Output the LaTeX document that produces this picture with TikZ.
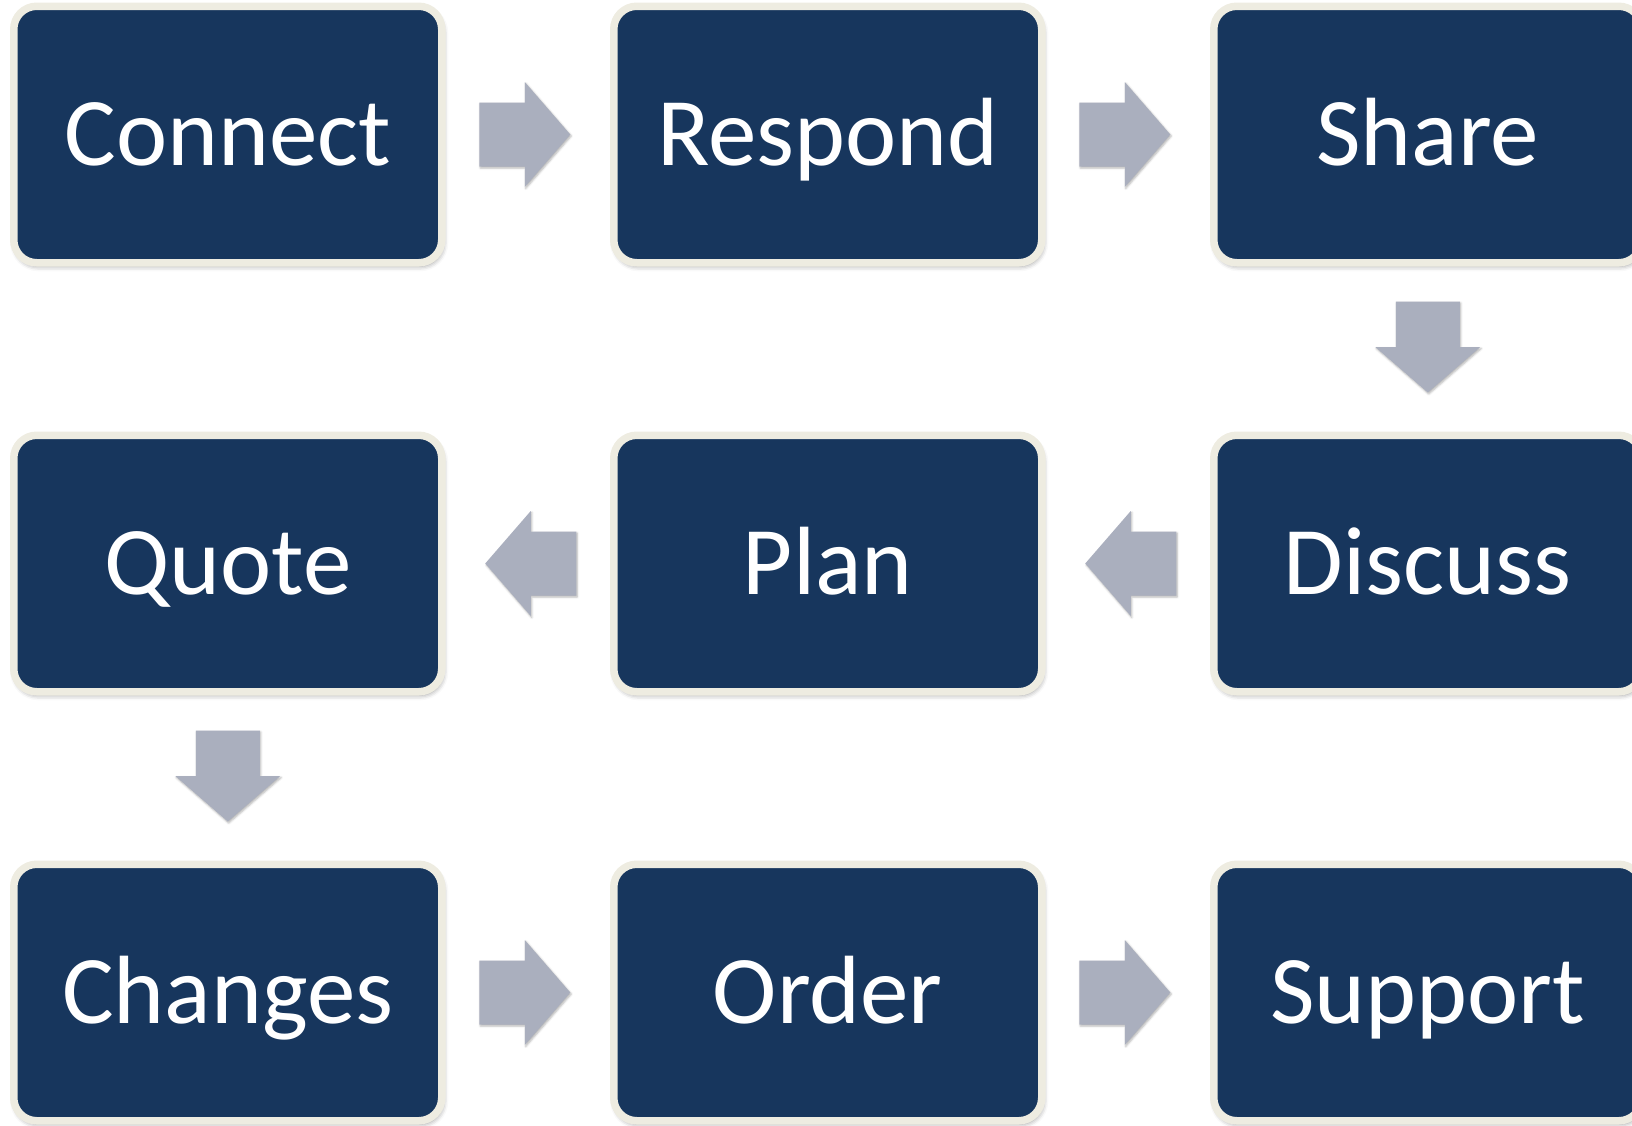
\documentclass[tikz,border=0pt]{standalone}
\usepackage{fontspec}
\setmainfont{Carlito}
\usetikzlibrary{calc,shadows.blur}
\definecolor{navy}{HTML}{17365D}
\definecolor{cream}{HTML}{EEECE1}
\definecolor{arrowgrey}{HTML}{AAAFBE}
\newcommand\barrow[2]{%
  \begin{scope}[shift={#1},rotate=#2]
    \fill[arrowgrey, blur shadow={shadow xshift=1pt, shadow yshift=-1.5pt, shadow blur radius=2pt, shadow opacity=30}]
      (-45.5,-32) -- (0,-32) -- (0,-52.5) -- (45.5,0) -- (0,52.5) -- (0,32) -- (-45.5,32) -- cycle;
  \end{scope}}
\begin{document}
\begin{tikzpicture}[x=1pt,y=-1pt,
  stepbox/.style={draw=cream, line width=7.5pt, fill=navy, rounded corners=23pt,
    minimum width=428pt, minimum height=256.5pt, inner sep=0pt, text=white,
    font=\fontsize{97}{97}\selectfont, text height=61pt, text depth=0pt,
    blur shadow={shadow xshift=1.5pt, shadow yshift=-3.5pt, shadow blur radius=5pt, shadow opacity=40}}]
\useasboundingbox (0,0) rectangle (1632,1125);
\clip (0,0) rectangle (1632,1125);
\node[stepbox] (connect) at (227.75,134.5) {Connect};
\node[stepbox] (respond) at (827.75,134.5) {Respond};
\node[stepbox] (share)   at (1427.75,134.5) {Share};
\node[stepbox] (quote)   at (227.75,563.5) {Quote};
\node[stepbox] (plan)    at (827.75,563.5) {Plan};
\node[stepbox] (discuss) at (1427.75,563.5) {Discuss};
\node[stepbox] (changes) at (227.75,992.5) {Changes};
\node[stepbox] (order)   at (827.75,992.5) {Order};
\node[stepbox] (support) at (1427.75,992.5) {Support};
\barrow{($(connect.east)!.5!(respond.west)+(-3,0)$)}{0}
\barrow{($(respond.east)!.5!(share.west)+(-3,0)$)}{0}
\barrow{($(share.south)!.5!(discuss.north)+(0,-2)$)}{-90}
\barrow{($(discuss.west)!.5!(plan.east)+(3,0)$)}{180}
\barrow{($(plan.west)!.5!(quote.east)+(3,0)$)}{180}
\barrow{($(quote.south)!.5!(changes.north)+(0,-2)$)}{-90}
\barrow{($(changes.east)!.5!(order.west)+(-3,0)$)}{0}
\barrow{($(order.east)!.5!(support.west)+(-3,0)$)}{0}
\end{tikzpicture}
\end{document}
